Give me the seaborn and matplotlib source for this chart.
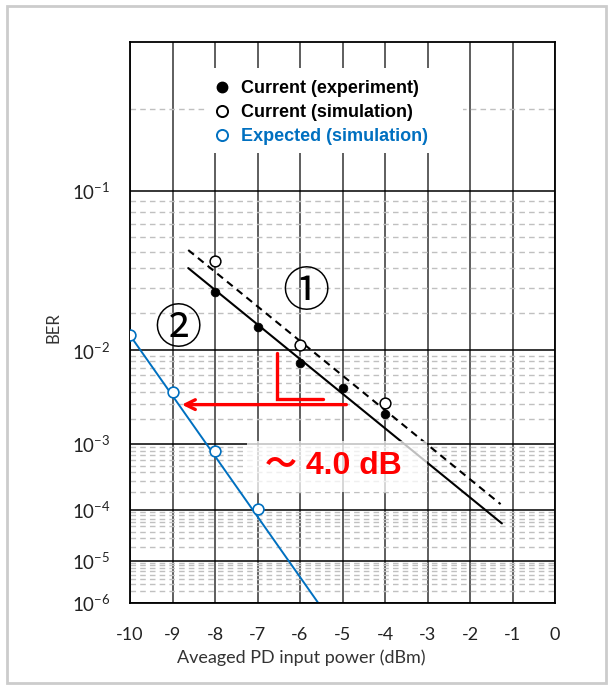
import matplotlib
matplotlib.use("Agg")
import matplotlib.pyplot as plt
import seaborn as sns
import numpy as np
from matplotlib.lines import Line2D
from matplotlib.patches import Rectangle
from matplotlib.scale import FuncScale
from matplotlib.ticker import FixedLocator, FixedFormatter, NullFormatter

# BER points
pwr_exp = [-8, -7, -6, -5, -4]
ber_exp = [2.83e-2, 1.56e-2, 7.8e-3, 4.4e-3, 2.3e-3]
pwr_sim = [-8, -6, -4]
ber_sim = [4.4e-2, 1.11e-2, 3.1e-3]
pwr_expected = [-10, -9, -8, -7]
ber_expected = [1.34e-2, 4.0e-3, 8.0e-4, 1.05e-4]

# straight fit lines (end points)
fit_exp_pwr = [-8.63, -1.25]
fit_exp_ber = [4.0e-2, 5.7e-5]
fit_sim_pwr = [-8.63, -1.28]
fit_sim_ber = [5.1e-2, 1.25e-4]
fit_expected_pwr = [-10, -5.57]
fit_expected_ber = [1.34e-2, 1.0e-6]

# red annotation: power penalty arrow and the L mark
arrow_pwr = [-4.91, -8.78]
arrow_ber = 2.94e-3
mark_pwr = [-6.54, -6.54, -5.45]
mark_ber = [9.4e-3, 3.37e-3, 3.37e-3]

x_ticks = list(range(-10, 1))
ber_decades = [1e-1, 1e-2, 1e-3, 1e-4, 1e-5, 1e-6]
ber_labels = [r"$\mathregular{10^{-%d}}$" % i for i in range(1, 7)]
ber_minor = [m * 10.0 ** e for e in range(-6, -1) for m in range(2, 10)] + [0.2]

BLUE = "#0070C0"
RED = "#FF0000"


def fwd(b):
    b = np.clip(np.asarray(b, dtype=float), 1e-300, 1 - 1e-12)
    return -np.log10(-np.log10(b))


def inv(v):
    with np.errstate(over="ignore", under="ignore"):
        return 10.0 ** (-(10.0 ** (-np.asarray(v, dtype=float))))


sns.set_style("white")
plt.rcParams["font.family"] = ["Lato", "DejaVu Sans"]
plt.rcParams["mathtext.fontset"] = "custom"
plt.rcParams["mathtext.rm"] = "Lato"
plt.rcParams["mathtext.default"] = "regular"

fig = plt.figure(figsize=(6.14, 6.85), dpi=100)
ax = fig.add_axes([130 / 614, 82 / 685, 425 / 614, 561 / 685])
ax.set_yscale(FuncScale(ax.yaxis, (fwd, inv)))

# fit lines
sns.lineplot(x=fit_sim_pwr, y=fit_sim_ber, ax=ax, color="black", lw=1.5,
             linestyle=(0, (3.5, 2.5)), zorder=2)
sns.lineplot(x=fit_exp_pwr, y=fit_exp_ber, ax=ax, color="black", lw=1.5, zorder=2)
sns.lineplot(x=fit_expected_pwr, y=fit_expected_ber, ax=ax, color=BLUE, lw=1.4, zorder=2)

# points
sns.scatterplot(x=pwr_sim, y=ber_sim, ax=ax, s=60, color="white",
                edgecolor="black", linewidth=1.1, zorder=3)
sns.scatterplot(x=pwr_exp, y=ber_exp, ax=ax, s=40, color="black",
                edgecolor="black", linewidth=0.5, zorder=3)
sns.scatterplot(x=pwr_expected, y=ber_expected, ax=ax, s=60, color="white",
                edgecolor=BLUE, linewidth=1.2, zorder=3)

ax.set_xlim(-10, 0)
ax.set_ylim(1e-6, 0.3)

ax.xaxis.set_major_locator(FixedLocator(x_ticks))
ax.set_xticklabels([str(t) for t in x_ticks])
ax.yaxis.set_major_locator(FixedLocator(ber_decades))
ax.yaxis.set_major_formatter(FixedFormatter(ber_labels))
ax.yaxis.set_minor_locator(FixedLocator(ber_minor))
ax.yaxis.set_minor_formatter(NullFormatter())
ax.tick_params(which="both", length=0)
ax.tick_params(axis="x", labelsize=13, pad=17, colors="#222222")
ax.tick_params(axis="y", labelsize=13.5, pad=14, colors="#222222")

ax.set_axisbelow(True)
ax.grid(which="major", axis="x", color="#333333", lw=1.1)
ax.grid(which="major", axis="y", color="black", lw=1.1)
ax.grid(which="minor", axis="y", color="#c0c0c0", lw=1.0, linestyle=(0, (4, 3)))
for sp in ax.spines.values():
    sp.set_color("black")
    sp.set_linewidth(1.3)

ax.set_xlabel("Aveaged PD input power (dBm)", fontsize=13, color="#333333")
ax.xaxis.set_label_coords(0.402, -0.083)
ax.set_ylabel("BER", fontsize=12, color="#333333")
ax.yaxis.set_label_coords(-0.16, 0.49)

# white box behind legend
ax.add_patch(Rectangle((0.178, 0.802), 0.605, 0.152, transform=ax.transAxes,
                       facecolor="white", edgecolor="none", zorder=1))

handles = [
    Line2D([], [], marker="o", ls="none", color="black", markersize=7.5),
    Line2D([], [], marker="o", ls="none", markerfacecolor="white",
           markeredgecolor="black", markeredgewidth=1.4, markersize=8),
    Line2D([], [], marker="o", ls="none", markerfacecolor="white",
           markeredgecolor=BLUE, markeredgewidth=1.4, markersize=8),
]
labels = ["Current (experiment)", "Current (simulation)", "Expected (simulation)"]
leg = ax.legend(handles, labels, loc="upper left", bbox_to_anchor=(0.203, 0.932),
                frameon=False, handlelength=0.6, handletextpad=0.75,
                labelspacing=0.38, borderpad=0, borderaxespad=0,
                prop={"family": "Liberation Sans", "weight": "bold", "size": 13})
for txt, c in zip(leg.get_texts(), ["black", "black", BLUE]):
    txt.set_color(c)

# power penalty annotation
ax.annotate("", xy=(arrow_pwr[1], arrow_ber), xytext=(arrow_pwr[0], arrow_ber),
            arrowprops=dict(arrowstyle="->,head_length=0.7,head_width=0.35",
                            color=RED, lw=2.4, shrinkA=0, shrinkB=0), zorder=4)
ax.plot(mark_pwr, mark_ber, color=RED, lw=2.4, zorder=4, solid_joinstyle="miter")

ax.add_patch(Rectangle((0.275, 0.198), 0.424, 0.09, transform=ax.transAxes,
                       facecolor="white", edgecolor="none", alpha=0.75, zorder=4))
ax.text(-5.22, 5.0e-4, "～ 4.0 dB", color=RED, fontsize=23, fontweight="bold",
        ha="center", va="center", zorder=5,
        family=["Liberation Sans", "Noto Sans CJK JP"])

ax.text(-5.85, 2.78e-2, "①", fontsize=34, ha="center", va="center", zorder=5,
        color="black", family=["Noto Sans CJK JP", "DejaVu Sans"])
ax.text(-8.87, 1.49e-2, "②", fontsize=34, ha="center", va="center", zorder=5,
        color="black", family=["Noto Sans CJK JP", "DejaVu Sans"])

# light grey frame round the figure
fig.patches.append(Rectangle((7 / 614, 2 / 685), 599 / 614, 677 / 685,
                             transform=fig.transFigure, fill=False,
                             edgecolor="#cccccc", lw=2))

fig.savefig("out.png", dpi=100)
